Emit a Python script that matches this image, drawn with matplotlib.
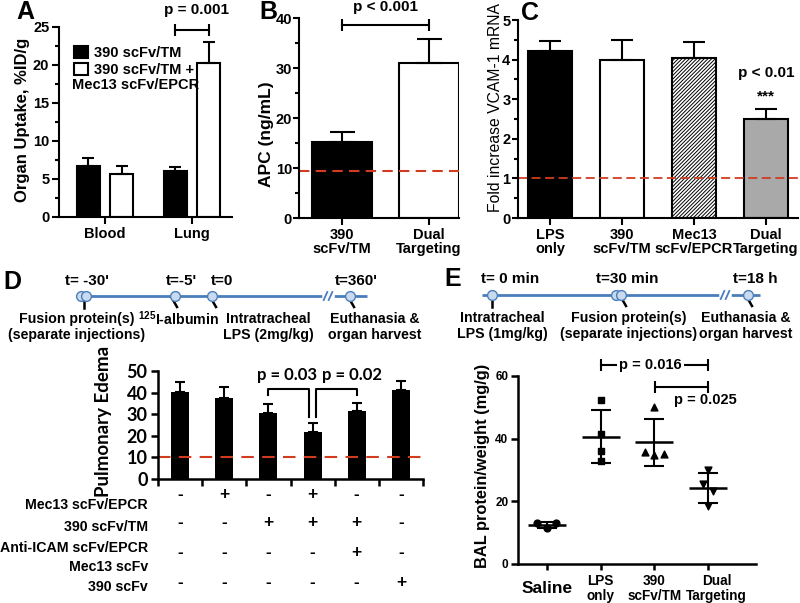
import numpy as np
import matplotlib
matplotlib.use('Agg')
import matplotlib.pyplot as plt
from matplotlib.ticker import MultipleLocator
from matplotlib.transforms import blended_transform_factory, ScaledTranslation

plt.rcParams['font.family'] = ['Liberation Sans', 'DejaVu Sans']
plt.rcParams['font.weight'] = 'bold'
plt.rcParams['mathtext.fontset'] = 'custom'
plt.rcParams['mathtext.rm'] = 'Liberation Sans:bold'
plt.rcParams['mathtext.default'] = 'rm'
plt.rcParams['hatch.linewidth'] = 0.7

# ---- data ----
# A: organ uptake (%ID/g)
organs = ['Blood', 'Lung']
uptake_tm = [6.7, 6.1]
uptake_tm_err = [1.0, 0.5]
uptake_dual = [5.7, 20.3]
uptake_dual_err = [1.0, 2.7]

# B: APC (ng/mL)
apc_groups = ['390\nscFv/TM', 'Dual\nTargeting']
apc = [15.2, 31.0]
apc_err = [2.0, 4.8]
apc_base = 9.5

# C: fold increase VCAM-1 mRNA
vcam_groups = ['LPS\nonly', '390\nscFv/TM', 'Mec13\nscFv/EPCR', 'Dual\nTargeting']
vcam = [4.22, 3.99, 4.05, 2.50]
vcam_err = [0.26, 0.51, 0.40, 0.25]
vcam_base = 1.0

# D: pulmonary edema
edema = [40.4, 37.3, 30.7, 21.9, 31.5, 41.2]
edema_err = [4.4, 5.1, 4.0, 3.9, 3.8, 4.2]
edema_base = 10
table_rows = ['Mec13 scFv/EPCR', '390 scFv/TM', 'Anti-ICAM scFv/EPCR', 'Mec13 scFv', '390 scFv']
table_signs = [['-', '+', '-', '+', '-', '-'],
               ['-', '-', '+', '+', '+', '-'],
               ['-', '-', '-', '-', '+', '-'],
               ['-', '-', '-', '-', '-', '+']]

# E: BAL protein/weight (mg/g)
bal_groups = ['Saline', 'LPS\nonly', '390\nscFv/TM', 'Dual\nTargeting']
bal_saline = [13.2, 11.4, 13.0]
bal_lps = [52.3, 41.4, 36.1, 32.8]
bal_tm = [50.1, 35.8, 34.7, 35.0]
bal_dual = [30.1, 25.5, 23.3, 18.5]

# timelines
tl_d_labels = ["t= -30'", "t=-5'", "t=0", "t=360'"]
tl_d_events = ['Fusion protein(s)\n(separate injections)', '$^{125}$I-albumin',
               'Intratracheal\nLPS (2mg/kg)', 'Euthanasia &\norgan harvest']
tl_e_labels = ['t= 0 min', 't=30 min', 't=18 h']
tl_e_events = ['Intratracheal\nLPS (1mg/kg)', 'Fusion protein(s)\n(separate injections)',
               'Euthanasia &\norgan harvest']

RED = '#d23c1e'
W, H = 800, 603
fig = plt.figure(figsize=(W / 100, H / 100), dpi=100)


def add_ax(x0, y0, x1, y1):
    return fig.add_axes([x0 / W, 1 - y1 / H, (x1 - x0) / W, (y1 - y0) / H])


def style(ax, lw=1.5, size=10.5):
    for s in ['top', 'right']:
        ax.spines[s].set_visible(False)
    for s in ['left', 'bottom']:
        ax.spines[s].set_linewidth(lw)
    ax.tick_params(which='major', length=5, width=lw, labelsize=size)
    ax.tick_params(which='minor', length=3, width=lw)
    ax.tick_params(axis='x', pad=2)
    for t in ax.get_xticklabels():
        t.set_linespacing(1.05)
    ax.patch.set_alpha(0)


def bracket(ax, x0, x1, y, ms=8):
    ax.plot([x0, x1], [y, y], color='k', lw=1.5, marker='|', ms=ms, mew=1.5, clip_on=False)


def upper_err(ax, x, y, err, cap):
    ax.errorbar(x, y, yerr=[np.zeros(len(y)), err], fmt='none', ecolor='k',
                elinewidth=1.5, capsize=cap, capthick=1.5)


# ---- A ----
axA = add_ax(59, 27, 232, 217)
xa = np.arange(len(organs))
off, wa = 0.19, 0.264
bA1 = axA.bar(xa - off, uptake_tm, wa, color='k', edgecolor='k', lw=1.5, label='390 scFv/TM')
bA2 = axA.bar(xa + off, uptake_dual, wa, color='w', edgecolor='k', lw=1.5, label='390 scFv/TM +')
upper_err(axA, xa - off, uptake_tm, uptake_tm_err, 4.5)
upper_err(axA, xa + off, uptake_dual, uptake_dual_err, 4.5)
axA.set_xlim(-0.529, 1.46)
axA.set_ylim(0, 25)
axA.set_xticks(xa, organs)
axA.yaxis.set_major_locator(MultipleLocator(5))
axA.yaxis.set_minor_locator(MultipleLocator(2.5))
style(axA)
axA.tick_params(axis='y', pad=2)
axA.legend(handles=[bA1, bA2], loc='upper left', bbox_to_anchor=(0.055, 0.93), frameon=False,
           fontsize=10.5, handlelength=0.95, handleheight=0.85, handletextpad=0.4,
           labelspacing=0.2, borderaxespad=0)
bracket(axA, 1 - off, 1 + off, 24.6)
axA.text(1.05, 27.2, 'p = 0.001', ha='center', va='center', fontsize=11)

# ---- B ----
axB = add_ax(299, 18, 459, 218)
xb = np.arange(len(apc_groups))
axB.bar(xb, apc, 0.69, color=['k', 'w'], edgecolor='k', lw=1.5)
upper_err(axB, xb, apc, apc_err, 9)
axB.axhline(apc_base, color=RED, lw=1.5, dashes=(5, 3))
axB.set_xlim(-0.494, 1.345)
axB.set_ylim(0, 40)
axB.set_xticks(xb, apc_groups)
axB.yaxis.set_major_locator(MultipleLocator(10))
axB.yaxis.set_minor_locator(MultipleLocator(5))
style(axB)
axB.tick_params(axis='y', which='major', length=4, pad=1)
bracket(axB, 0, 1, 38.6)
axB.text(0.5, 42.1, 'p < 0.001', ha='center', va='center', fontsize=11)

# ---- C ----
axC = add_ax(518, 20, 798, 218)
xc = np.arange(len(vcam_groups))
axC.bar(xc, vcam, 0.6, color=['k', 'w', 'w', '#a9a9a9'], edgecolor='k', lw=1.5,
        hatch=['', '', '/////////', ''])
upper_err(axC, xc, vcam, vcam_err, 8)
axC.axhline(vcam_base, color=RED, lw=1.3, dashes=(5, 2.5))
axC.set_xlim(-0.444, 3.444)
axC.set_ylim(0, 5)
axC.set_xticks(xc, vcam_groups)
axC.yaxis.set_major_locator(MultipleLocator(1))
axC.yaxis.set_minor_locator(MultipleLocator(0.5))
style(axC)
axC.tick_params(axis='y', which='major', length=4, pad=1.5)
axC.text(3, 3.66, 'p < 0.01', ha='center', va='center', fontsize=11)
axC.text(3, 3.08, '***', ha='center', va='center', fontsize=11)

# ---- D ----
axD = add_ax(158, 371, 423, 479)
xd = np.arange(len(edema))
axD.bar(xd, edema, 0.41, color='k')
upper_err(axD, xd, edema, edema_err, 3.5)
axD.axhline(edema_base, color=RED, lw=1.5, dashes=(6, 4))
axD.set_xlim(-0.5, len(edema) - 0.5)
axD.set_ylim(0, 50)
axD.set_xticks(np.arange(-0.5, len(edema)), [])
axD.yaxis.set_major_locator(MultipleLocator(10))
style(axD, lw=1.8, size=13)
axD.tick_params(axis='y', pad=2.5)
for t in axD.get_yticklabels():
    t.set_family('Lato')
axD.plot([2, 2, 2.93, 2.93], [38.9, 41.6, 41.6, 28.7], color='k', lw=1.5)
axD.plot([3.07, 3.07, 4, 4], [28.7, 41.6, 41.6, 38.9], color='k', lw=1.5)
axD.text(2.42, 48.1, 'p = 0.03', ha='center', va='center', fontsize=12, family='Lato')
axD.text(3.89, 48.1, 'p = 0.02', ha='center', va='center', fontsize=12, family='Lato')

# ---- E ----
axE = add_ax(518, 376, 756, 564)
groups = [bal_saline, bal_lps, bal_tm, bal_dual]
markers = ['o', 's', '^', 'v']
jitter = [[-0.19, 0, 0.17], [0, 0, 0, 0], [0, -0.17, 0, 0.17], [0, -0.1, 0.09, 0]]
for i, (vals, m, jit) in enumerate(zip(groups, markers, jitter)):
    vals = np.array(vals)
    axE.scatter(i + np.array(jit), vals, marker=m, s=24, color='k', zorder=3, clip_on=False)
    mean, sd = vals.mean(), vals.std(ddof=1)
    axE.errorbar([i], [mean], yerr=[sd], fmt='none', ecolor='k', elinewidth=1.5,
                 capsize=7.5, capthick=1.5)
    axE.plot([i], [mean], marker='_', ms=27, mew=1.8, color='k')
axE.set_xlim(-0.54, 3.89)
axE.set_ylim(0, 60)
axE.set_xticks(range(len(bal_groups)), bal_groups)
axE.yaxis.set_major_locator(MultipleLocator(20))
style(axE, lw=1.8, size=9.8)
axE.tick_params(axis='y', labelsize=8.5, pad=2)
axE.tick_params(axis='x', length=4, pad=13.5)
labelsE = axE.get_xticklabels()
for t in labelsE:
    t.set_va('center')
labelsE[0].set_fontsize(12.5)
labelsE[3].set_transform(labelsE[3].get_transform() + ScaledTranslation(6 / 72, 0, fig.dpi_scale_trans))
bracket(axE, 1, 3, 63.5)
axE.text(1.92, 63.5, 'p = 0.016', ha='center', va='center', fontsize=10.5,
         bbox=dict(fc='w', ec='none', pad=1.5))
bracket(axE, 2.01, 3, 56.5)
axE.text(2.94, 52.3, 'p = 0.025', ha='center', va='center', fontsize=10.5)

# ---- overlay: letters, axis titles, timelines, table ----
ov = fig.add_axes([0, 0, 1, 1])
ov.set_xlim(0, W)
ov.set_ylim(H, 0)
ov.axis('off')

for letter, (lx, ly) in zip('ABCDE', [(25, 12), (268, 12), (530, 13), (12, 282), (453, 279)]):
    ov.text(lx, ly, letter, fontsize=18, ha='center', va='center')

ov.text(23, 120, 'Organ Uptake, %ID/g', rotation=90, ha='center', va='center', fontsize=12)
ov.text(267, 134, 'APC (ng/mL)', rotation=90, ha='center', va='center', fontsize=12.5)
ov.text(495, 108, 'Fold increase VCAM-1 mRNA', rotation=90, ha='center', va='center',
        fontsize=11.3, weight='normal')
ov.text(103, 421, 'Pulmonary Edema', rotation=90, ha='center', va='center', fontsize=13.5,
        family='Lato')
ov.text(482, 466, 'BAL protein/weight (mg/g)', rotation=90, ha='center', va='center', fontsize=11.8)
ov.text(72, 85, 'Mec13 scFv/EPCR', ha='left', va='center', fontsize=10.5)

BLUE = '#4a7ebb'


def timeline(y, x0, x1, brk, dots, pins):
    ov.plot([x0, x1], [y, y], color=BLUE, lw=2, solid_capstyle='butt', zorder=2)
    ov.plot([brk - 3.5, brk + 3.5], [y, y], color='w', lw=4, zorder=2)
    for dx in (-2.5, 2.5):
        ov.plot([brk + dx - 1.8, brk + dx + 1.8], [y + 4, y - 4], color=BLUE, lw=1.3, zorder=3)
    for px, kind in pins:
        if kind == '|':
            ov.plot([px, px], [y + 4, y + 12], color='k', lw=1.8, zorder=3)
        else:
            ov.plot([px + 2, px + 6], [y + 4, y + 11], color='k', lw=1.8, zorder=3)
    ov.scatter(dots, [y] * len(dots), s=50, facecolor='#c9d9ee', edgecolor=BLUE, lw=1, zorder=4)


timeline(296, 77, 367, 328, [81, 86, 175, 212, 350],
         [(84, '|'), (171, '\\'), (210, '\\'), (348, '\\')])
for txt, tx in zip(tl_d_labels, [87, 181, 222, 356]):
    ov.text(tx, 281, txt, ha='center', va='center', fontsize=11)
for txt, tx in zip(tl_d_events, [77, 178, 268, 375]):
    ty = 319 if txt.startswith('$') else 327
    ov.text(tx, ty, txt, ha='center', va='center', fontsize=10.2, linespacing=1.1)

timeline(295, 482, 760, 725, [492, 616, 621, 748],
         [(492, '|'), (620, '\\'), (746, '\\')])
for txt, tx in zip(tl_e_labels, [510, 627, 755]):
    ov.text(tx, 279, txt, ha='center', va='center', fontsize=11)
for txt, tx in zip(tl_e_events, [502, 629, 746]):
    ov.text(tx, 326, txt, ha='center', va='center', fontsize=10.2, linespacing=1.1)

# condition table under panel D
tr = blended_transform_factory(axD.transData, ov.transData)
for name, ry in zip(table_rows, [505, 527, 548, 567, 587]):
    ov.text(148, ry, name, ha='right', va='center', fontsize=10.2)
for signs, ry in zip(table_signs, [495, 522, 553, 583]):
    for i, s in enumerate(signs):
        ov.text(i, ry, s, transform=tr, ha='center', va='center', fontsize=12.5)

fig.savefig('out.png', dpi=100, facecolor='white')
